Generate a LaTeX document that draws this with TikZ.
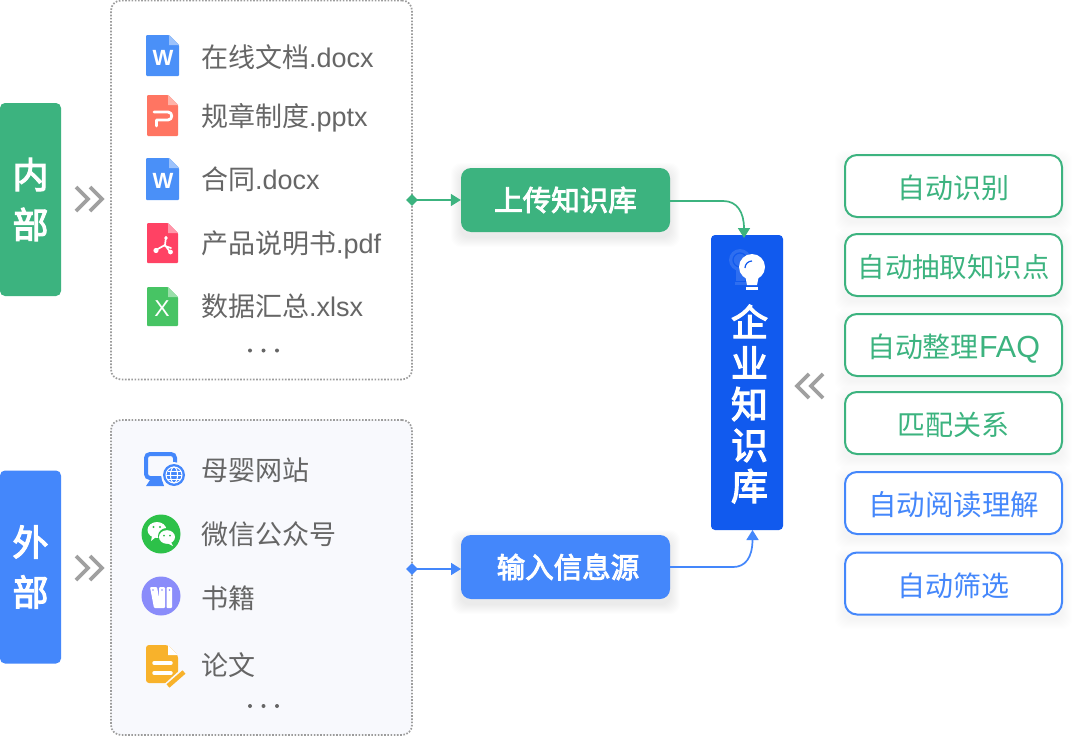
\documentclass[tikz,border=0pt]{standalone}
\usepackage{fontspec}
\usetikzlibrary{arrows.meta,calc,shapes.geometric}
\newfontfamily\cjk{Noto Sans CJK SC}
\newfontfamily\cjkm[FakeBold=3.2]{Noto Sans CJK SC}
\newfontfamily\lat{Liberation Sans}
\definecolor{grn}{HTML}{3CB37F}
\definecolor{blu}{HTML}{4487FB}
\definecolor{dblu}{HTML}{115AEE}
\definecolor{txt}{HTML}{666666}
\definecolor{dot}{HTML}{9C9C9C}
\definecolor{chev}{HTML}{A0A0A0}
\definecolor{panel}{HTML}{F8F9FD}
\definecolor{wbl}{HTML}{4A90F8}
\definecolor{pred}{HTML}{FF7562}
\definecolor{pdfr}{HTML}{FF4264}
\definecolor{xgr}{HTML}{47C464}
\definecolor{wech}{HTML}{2DC149}
\definecolor{purp}{HTML}{8A8CFA}
\definecolor{oran}{HTML}{F8B22B}
\newcommand{\softshadow}[5]{%
  \foreach \i in {1,...,10}{\fill[#5,opacity=.008,rounded corners=10pt] (#1-\i,#2-\i+5) rectangle (#3+\i,#4+\i+5);}}
\newcommand{\docicon}[6]{% x1 y1 x2 y2 color light
  \fill[#5,rounded corners=1pt] (#1,#2) -- (#3-10,#2) -- (#3,#2+10) -- (#3,#4) -- (#1,#4) -- cycle;
  \fill[#6] (#3-10,#2) -- (#3,#2+10) -- (#3-10,#2+10) -- cycle;}
\newcommand{\chevs}[3]{% x y dir
  \draw[chev,line width=3.6pt] (#1,#2-12) -- (#1+#3*12,#2) -- (#1,#2+12);
  \draw[chev,line width=3.6pt] (#1+#3*14,#2-12) -- (#1+#3*26,#2) -- (#1+#3*14,#2+12);}
\tikzset{
  x=1pt,y=-1pt,
  sidebox/.style={rounded corners=5pt,inner sep=0pt,minimum width=61pt,minimum height=193pt,text=white,align=center,font=\cjkm\fontsize{36}{50}\selectfont},
  panelbox/.style={draw=dot,line width=1.7pt,dash pattern=on 1.6pt off 1.6pt,rounded corners=10pt,inner sep=0pt,minimum width=301pt},
  item/.style={inner sep=0pt,anchor=west,text=txt,text height=25pt,text depth=5pt,font=\cjk\fontsize{27}{30}\selectfont},
  btn/.style={rounded corners=10pt,inner sep=0pt,minimum width=209pt,minimum height=64pt,text=white,font=\cjkm\fontsize{28.5}{32}\selectfont},
  skill/.style={draw=#1,text=#1,fill=white,line width=2pt,rounded corners=12pt,inner sep=0pt,minimum width=217pt,minimum height=62pt,text height=27pt,text depth=2pt,font=\cjk\fontsize{28}{30}\selectfont},
  conn/.style={line width=1.7pt,draw=#1,-{Triangle[length=10pt,width=12pt,fill=#1]}},
  dia/.style={diamond,fill=#1,inner sep=0pt,minimum width=12pt,minimum height=12pt},
  tdot/.style={circle,fill=#1,inner sep=0pt,minimum size=4pt},
}
\begin{document}
\begin{tikzpicture}
\useasboundingbox[fill=white] (0,0) rectangle (1080,736);

% side labels
\node[sidebox,fill=grn] (inner) at (30.5,199.5) {内\\部};
\node[sidebox,fill=blu] (outer) at (30.5,567) {外\\部};
\chevs{76}{199}{1}
\chevs{76}{568}{1}
\chevs{823}{386}{-1}

% panels
\node[panelbox,minimum height=379pt] (docs) at (261.5,190) {};
\node[panelbox,minimum height=315pt,fill=panel] (ext) at (261.5,577.5) {};

% document icons
\docicon{146}{35}{179}{76}{wbl}{wbl!55!white}
\node[inner sep=0pt,text=white,font=\lat\bfseries\fontsize{22}{22}\selectfont] (wa) at (163,58) {W};
\docicon{147}{95}{178}{136}{pred}{pred!55!white}
\draw[white,line width=2.8pt,line cap=round,line join=round] (154,112) -- (168,112) .. controls (173,112) and (173,120) .. (168,120) -- (156.5,120) -- (156.5,126);
\docicon{146}{158}{179}{200}{wbl}{wbl!55!white}
\node[inner sep=0pt,text=white,font=\lat\bfseries\fontsize{22}{22}\selectfont] (wb) at (163,181) {W};
\docicon{147}{223}{178}{263}{pdfr}{pdfr!55!white}
\draw[white,line width=1.7pt,line cap=round,line join=round] (166,237) -- (165,245) -- (156,250) (165,245) -- (170,252) (165,246) -- (171,248);
\fill[white] (166,238) circle (1.9) (156,250.5) circle (2.6) (170.5,252) circle (2.4);
\docicon{147}{287}{178}{326}{xgr}{xgr!55!white}
\node[inner sep=0pt,text=white,font=\lat\fontsize{23}{23}\selectfont] (xa) at (162,308.5) {X};

% document labels
\node[item] (d1) at (201,57) {在线文档{\lat.docx}};
\node[item] (d2) at (201,116) {规章制度{\lat.pptx}};
\node[item] (d3) at (201,179) {合同{\lat.docx}};
\node[item] (d4) at (201,243) {产品说明书{\lat.pdf}};
\node[item] (d5) at (201,306) {数据汇总{\lat.xlsx}};
\node[tdot=txt] (da) at (250,350.5) {};
\node[tdot=txt] (db) at (263.5,350.5) {};
\node[tdot=txt] (dc) at (277,350.5) {};

% external icons
\draw[blu,line width=4pt,rounded corners=4pt] (146,454) rectangle (175,478);
\fill[blu] (146,486) -- (150,480) -- (162,480) -- (164,486) -- cycle;
\fill[panel] (174,475) circle (13);
\fill[blu] (174,475) circle (11);
\draw[white,line width=1pt] (174,475) circle (8);
\draw[white,line width=1pt] (174,475) ellipse (3.5 and 8);
\draw[white,line width=1pt] (166,475) -- (182,475) (167.5,471) -- (180.5,471) (167.5,479) -- (180.5,479);

\fill[wech] (161,534) circle (19.5);
\fill[white] (157,530) ellipse (9.5 and 8);
\fill[white] (152,536) -- (151,541) -- (156,537) -- cycle;
\fill[wech] (167,536) ellipse (9 and 8);
\fill[white] (167,537) ellipse (8 and 6.8);
\fill[white] (171,542) -- (173,546) -- (167,543) -- cycle;
\fill[wech] (153.5,527) circle (1.2) (160,527) circle (1.2) (164,535.5) circle (1) (170,535.5) circle (1);

\fill[purp] (161,596) circle (19.5);
\fill[white,rounded corners=1pt] (150,587) -- (157,587) -- (161,608) -- (154,608) -- cycle;
\fill[white,rounded corners=1pt] (159,587) rectangle (165,608);
\fill[white,rounded corners=1pt] (166.5,587) rectangle (172,608);
\fill[purp] (153,590) circle (.9) (162,590) circle (.9) (169.5,590) circle (.9);

\fill[oran,rounded corners=3pt] (146,645) -- (168,645) -- (178,655) -- (178,683) -- (146,683) -- cycle;
\fill[white] (168,645) -- (178,655) -- (168,655) -- cycle;
\draw[white,line width=3.5pt,line cap=round] (154,663) -- (171,663) (154,673) -- (171,673);
\draw[panel,line width=8pt] (166,688) -- (186,670);
\draw[oran,line width=4.5pt] (168,686) -- (184,672);

% external labels
\node[item] (e1) at (201,470) {母婴网站};
\node[item] (e2) at (201,534) {微信公众号};
\node[item] (e3) at (201,598) {书籍};
\node[item] (e4) at (201,665) {论文};
\node[tdot=txt] (ea) at (250,706) {};
\node[tdot=txt] (eb) at (263.5,706) {};
\node[tdot=txt] (ec) at (277,706) {};

% buttons
\softshadow{461}{168}{670}{232}{black!70}
\softshadow{461}{535}{670}{599}{black!70}
\node[btn,fill=grn] (upload) at (565.5,200) {上传知识库};
\node[btn,fill=blu] (input) at (565.5,567) {\hspace{5pt}输入信息源};

% central
\node[fill=dblu,rounded corners=4pt,inner sep=0pt,minimum width=72pt,minimum height=295pt] (core) at (747,382.5) {};
\coordinate (coreTop) at (744,238);
\coordinate (coreBot) at (752.5,530);
\fill[white!12!dblu] (740,260) circle (11);
\fill[white!12!dblu] (736,270) rectangle (745,281);
\fill[white!12!dblu] (735,282) rectangle (748,285);
\draw[dblu,line width=1.2pt] (740,260) circle (7);
\fill[white] (752,267) circle (13);
\fill[white] (745,275) -- (759,275) -- (757,285) -- (747,285) -- cycle;
\fill[white] (746,287) rectangle (758,290);
\draw[dblu,line width=1.2pt] (745,268) arc (180:270:7);
\node[inner sep=0pt,align=center,text=white,font=\cjkm\fontsize{37}{41}\selectfont] (coretext) at (749.5,404) {企\\业\\知\\识\\库};

% connectors
\coordinate (docsOut) at (412,200);
\coordinate (extOut) at (412,569);
\coordinate (inW) at (461,569);
\node[dia=grn] (da1) at (docsOut) {};
\node[dia=blu] (da2) at (extOut) {};
\draw[conn=grn] (da1.center) -- (upload.west);
\draw[conn=blu] (da2.center) -- (inW);
\draw[conn=grn] (upload.east) ++(0,1) -- ++(53,0) .. controls (737,201) and (744,212) .. (coreTop);
\draw[conn=blu] (input.east) -- ++(63,0) .. controls (745,567) and (752.5,558) .. (coreBot);

% skills
\softshadow{845}{155}{1062}{217}{black!35}
\softshadow{845}{234}{1062}{296}{black!35}
\softshadow{845}{314}{1062}{376}{black!35}
\softshadow{845}{392}{1062}{454}{black!35}
\softshadow{845}{472}{1062}{534}{black!35}
\softshadow{845}{553}{1062}{614}{black!35}
\node[skill=grn] (s1) at (953.5,186) {自动识别};
\node[skill=grn,font=\cjk\fontsize{27.4}{30}\selectfont] (s2) at (953.5,265) {自动抽取知识点};
\node[skill=grn] (s3) at (953.5,345) {自动整理{\lat\fontsize{30.5}{30}\selectfont FAQ}};
\node[skill=grn] (s4) at (953.5,423) {匹配关系};
\node[skill=blu,font=\cjk\fontsize{28.5}{30}\selectfont] (s5) at (953.5,503) {自动阅读理解};
\node[skill=blu] (s6) at (953.5,583.5) {自动筛选};
\end{tikzpicture}
\end{document}
